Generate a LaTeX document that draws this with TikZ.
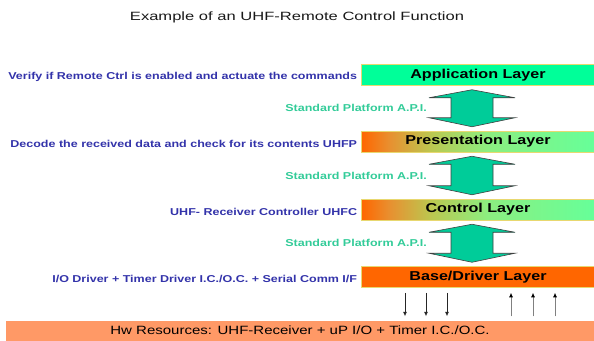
\documentclass[tikz,border=0pt]{standalone}
\usepackage{fontspec}
\setmainfont{Liberation Sans}
\newfontfamily\wsans[FakeStretch=1.25]{Liberation Sans}
\newfontfamily\ttlfont[FakeStretch=1.38]{Liberation Sans}
\usetikzlibrary{calc,arrows.meta}

\definecolor{appgreen}{HTML}{00FF99}
\definecolor{baseorange}{HTML}{FF6600}
\definecolor{hwsalmon}{HTML}{FF9966}
\definecolor{laybord}{HTML}{E8D870}
\definecolor{notetext}{HTML}{3333AA}
\definecolor{apitext}{HTML}{33CC99}
\definecolor{apifill}{HTML}{00CC99}
\definecolor{gA}{HTML}{FF6600}
\definecolor{gB}{HTML}{E89030}
\definecolor{gC}{HTML}{BBC850}
\definecolor{gD}{HTML}{8CEE80}
\definecolor{gE}{HTML}{66FF99}

% orange-to-green fade used by the middle layers
% (the path is mapped onto the 25bp..75bp band of the shading)
\pgfdeclarehorizontalshading{layershade}{100bp}{%
  color(0bp)=(gA); color(25bp)=(gA); color(31bp)=(gB); color(40bp)=(gC);
  color(52bp)=(gD); color(75bp)=(gE); color(100bp)=(gE)}

% wide double-headed API arrow between two layer boxes
\newcommand\apiarrow[2]{%
  \path[bigarrow] let \p1=($(#1.south -| ax)+(0,4)$),
                      \p2=($(#2.north -| ax)+(0,-4)$) in
    (\x1,\y1) -- (\x1-43pt,\y1-8pt) -- (\x1-21pt,\y1-8pt)
    -- (\x1-21pt,\y2+9pt) -- (\x1-43pt,\y2+9pt) -- (\x1,\y2)
    -- (\x1+43pt,\y2+9pt) -- (\x1+21pt,\y2+9pt)
    -- (\x1+21pt,\y1-8pt) -- (\x1+43pt,\y1-8pt) -- cycle;}

\begin{document}
\begin{tikzpicture}[x=1pt,y=-1pt,
  layer/.style={minimum width=233pt, minimum height=21pt, inner sep=0pt,
    draw=laybord, line width=0.5pt,
    font=\wsans\fontsize{12.9}{14}\selectfont\bfseries},
  note/.style={anchor=east, inner sep=0pt, text=notetext,
    font=\wsans\fontsize{10}{12}\selectfont\bfseries},
  apilabel/.style={anchor=east, inner sep=0pt, text=apitext,
    font=\wsans\fontsize{10}{12}\selectfont\bfseries},
  bigarrow/.style={fill=apifill, draw=black!75, line width=0.6pt},
  downarr/.style={-{Latex[length=4.5pt,width=4pt]}, line width=0.8pt, draw=black!85},
  uparr/.style={-{Latex[length=4.5pt,width=4pt,color=black]}, line width=0.8pt, draw=black!50}
]
\fill[white] (0,0) rectangle (594,340);
\useasboundingbox (0,0) rectangle (594,340);

% title
\node[font=\ttlfont\fontsize{12}{14}\selectfont, text=black!90] (title) at (297,17)
  {Example of an UHF-Remote Control Function};

% layer stack
\node[layer, fill=appgreen] (app) at (478,75) {Application Layer};
\node[layer, shade, shading=layershade] (pres) at (478,141.5) {Presentation Layer};
\node[layer, shade, shading=layershade] (ctrl) at (478,209.5) {Control Layer};
\node[layer, fill=baseorange] (base) at (478,277) {Base/Driver Layer};
\node[minimum width=588pt, minimum height=20pt, inner sep=0pt, fill=hwsalmon,
  font=\wsans\fontsize{12}{14}\selectfont] (hw) at (300,330.5)
  {Hw Resources: UHF-Receiver + uP I/O + Timer I.C./O.C.};

% descriptions of each layer
\node[note] (dapp)  at ($(app.west)+(-4,2)$)  {Verify if Remote Ctrl is enabled and actuate the commands};
\node[note] (dpres) at ($(pres.west)+(-4,2)$) {Decode the received data and check for its contents UHFP};
\node[note] (dctrl) at ($(ctrl.west)+(-4,2)$) {UHF- Receiver Controller UHFC};
\node[note] (dbase) at ($(base.west)+(-4,2)$) {I/O Driver + Timer Driver I.C./O.C. + Serial Comm I/F};

% API arrows between layers
\coordinate (ax) at (472,0);
\coordinate (lx) at (427,0);
\apiarrow{app}{pres}
\apiarrow{pres}{ctrl}
\apiarrow{ctrl}{base}
\coordinate (m1) at ($(app.south)!0.5!(pres.north)$);
\coordinate (m2) at ($(pres.south)!0.5!(ctrl.north)$);
\coordinate (m3) at ($(ctrl.south)!0.5!(base.north)$);
\node[apilabel] (api1) at (lx |- m1) {Standard Platform A.P.I.};
\node[apilabel] (api2) at (lx |- m2) {Standard Platform A.P.I.};
\node[apilabel] (api3) at (lx |- m3) {Standard Platform A.P.I.};

% driver <-> hardware signal arrows
\coordinate (d1) at (405,0);
\coordinate (d2) at (426,0);
\coordinate (d3) at (447,0);
\coordinate (u1) at (511,0);
\coordinate (u2) at (533,0);
\coordinate (u3) at (555,0);
\foreach \c in {d1,d2,d3}
  \draw[downarr, shorten <=5pt, shorten >=4pt] (base.south -| \c) -- (hw.north -| \c);
\foreach \c in {u1,u2,u3}
  \draw[uparr, shorten <=4pt, shorten >=5pt] (hw.north -| \c) -- (base.south -| \c);
\end{tikzpicture}
\end{document}
